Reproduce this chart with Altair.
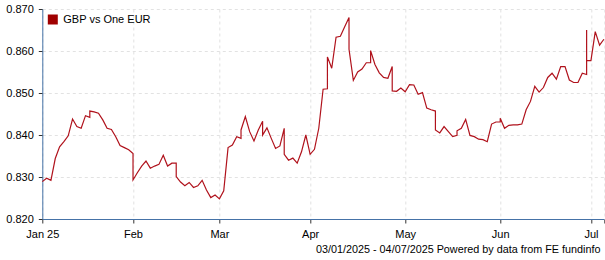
import altair as alt
import pandas as pd

# Exchange rate, one entry per trading day (Jan 3 2025 .. Jul 4 2025).
# Tuples = several quotes drawn at the same trading-day position (sharp jumps).
jan = [0.8289, 0.8297, 0.8292, 0.8344, 0.8372, 0.8384, 0.8398, 0.8438, 0.8420, 0.8416,
       0.8446, (0.8442, 0.8457), 0.8455, 0.8452, 0.8436, 0.8416, 0.8413, 0.8396, 0.8375,
       0.8370, 0.8365]
feb = [(0.8356, 0.8293), 0.8310, 0.8326, 0.8338, 0.8321, 0.8326, 0.8330, 0.8352, 0.8326,
       0.8333, (0.8333, 0.8301), 0.8288, 0.8279, 0.8287, 0.8275, 0.8279, 0.8292, 0.8269,
       0.8251, 0.8257]
mar = [0.8248, 0.8267, 0.8370, 0.8376, 0.8396, (0.8392, 0.8412), 0.8444, 0.8408, 0.8386,
       0.8412, (0.8433, 0.8400), 0.8417, 0.8392, 0.8368, 0.8374, (0.8416, 0.8354), 0.8340,
       0.8345, 0.8333, 0.8360, 0.8400]
apr = [0.8354, 0.8366, 0.8416, 0.8509, (0.8510, 0.8586), 0.8559, 0.8633, 0.8635, 0.8658,
       (0.8680, 0.8604), 0.8530, 0.8550, 0.8557, 0.8572, (0.8572, 0.8601), 0.8568, 0.8548,
       0.8537, 0.8535, (0.8563, 0.8505), 0.8504, 0.8512]
may = [0.8503, 0.8520, 0.8519, 0.8497, 0.8501, 0.8464, 0.8460, (0.8457, 0.8412), 0.8405,
       0.8420, 0.8408, 0.8396, (0.8399, 0.8410), 0.8416, 0.8437, 0.8399, 0.8396, 0.8390,
       0.8389, 0.8384, 0.8426, 0.8431]
jun = [(0.8431, 0.8440), 0.8416, 0.8423, 0.8424, 0.8424, 0.8426, 0.8460, 0.8480, 0.8516,
       0.8502, 0.8513, 0.8537, 0.8547, 0.8533, 0.8563, 0.8563, 0.8531, 0.8525, 0.8525,
       0.8547, (0.8544, 0.8650, 0.8577)]
jul = [0.8577, 0.8646, 0.8614, 0.8628]

month_labels = ["Jan 25", "Feb", "Mar", "Apr", "May", "Jun", "Jul"]
y_ticks = [0.820, 0.830, 0.840, 0.850, 0.860, 0.870]
series_name = "GBP vs One EUR"
footer = "03/01/2025 - 04/07/2025 Powered by data from FE fundinfo"

months = [jan, feb, mar, apr, may, jun, jul]
rows = []
month_start = []
day = 0
seq = 0
for m in months:
    month_start.append(day)
    for entry in m:
        vals = entry if isinstance(entry, tuple) else (entry,)
        for v in vals:
            rows.append({"day": day, "rate": v, "seq": seq, "series": series_name})
            seq += 1
        day += 1
last_day = day - 1
df = pd.DataFrame(rows)

label_expr = ""
for idx, lab in zip(month_start, month_labels):
    label_expr += f"datum.value == {idx} ? '{lab}' : "
label_expr += "''"

chart = alt.Chart(df).mark_line(strokeWidth=1.2, interpolate="linear").encode(
    x=alt.X("day:Q",
            scale=alt.Scale(domain=[0, last_day], nice=False, zero=False),
            axis=alt.Axis(values=month_start + [last_day], labelExpr=label_expr,
                          title=footer, titleAnchor="end", titleAlign="right",
                          titleX=557.7, titleY=30, titleBaseline="middle",
                          titleFontWeight="normal", titleFontSize=10.8,
                          titleFont="Liberation Sans", titleColor="#000000",
                          labelPadding=5, labelFlush=False)),
    y=alt.Y("rate:Q",
            scale=alt.Scale(domain=[0.82, 0.87], nice=False, zero=False),
            axis=alt.Axis(values=y_ticks, format=".3f", title=None, labelPadding=5)),
    color=alt.Color("series:N",
                    scale=alt.Scale(domain=[series_name], range=["#b0121c"]),
                    legend=alt.Legend(title=None, orient="none", legendX=5, legendY=5,
                                      symbolType="square", symbolSize=100,
                                      symbolStrokeWidth=0, symbolFillColor="#a00000",
                                      labelFont="Liberation Sans", labelFontSize=11,
                                      labelColor="#000000", labelOffset=5,
                                      padding=0)),
    order=alt.Order("seq:Q"),
).properties(
    width=561.6, height=210,
    padding={"left": 42.3, "top": 9, "right": 1.1, "bottom": 41},
    autosize=alt.AutoSizeParams(type="none"),
    background="#ffffff",
).configure_view(strokeWidth=0).configure_axis(
    domainColor="#4572A7", domainWidth=1,
    tickColor="#333333", tickSize=4,
    gridColor="#e2e2e2", gridDash=[3, 3], gridWidth=1,
    labelFont="Liberation Sans", labelFontSize=11, labelColor="#000000",
)

chart.save("out.html", embed_options={"renderer": "svg", "actions": False})
